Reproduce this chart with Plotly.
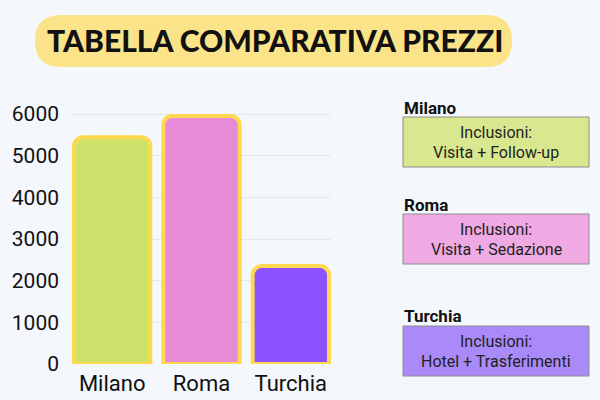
import plotly.graph_objects as go

# ---- data ----
cities = ["Milano", "Roma", "Turchia"]
prices = [5440, 5950, 2350]
bar_colors = ["#CDE26A", "#E78AD8", "#8C52FF"]
box_colors = ["#D9E88E", "#EFA9E3", "#A98AF8"]
inclusions = ["Visita + Follow-up", "Visita + Sedazione", "Hotel + Trasferimenti"]
y_ticks = [0, 1000, 2000, 3000, 4000, 5000, 6000]
title_text = "TABELLA COMPARATIVA PREZZI"

W, H = 600, 400
L, R, T, B = 72, 269, 100, 36
PW, PH = W - L - R, H - T - B


def px(x):
    return (x - L) / PW


def py(y):
    return (H - B - y) / PH


fig = go.Figure()
fig.add_trace(go.Bar(
    x=cities, y=prices, width=0.855,
    marker=dict(color=bar_colors, line=dict(color="#FDD94F", width=4),
                cornerradius=9),
    showlegend=False, hoverinfo="skip",
))

shapes = []
annotations = []

# title pill
x0, x1, y0, y1 = 35, 512, 15, 67
r = 26
path = (f"M {px(x0 + r)},{py(y0)} L {px(x1 - r)},{py(y0)} "
        f"Q {px(x1)},{py(y0)} {px(x1)},{py(y0 + r)} "
        f"Q {px(x1)},{py(y1)} {px(x1 - r)},{py(y1)} "
        f"L {px(x0 + r)},{py(y1)} "
        f"Q {px(x0)},{py(y1)} {px(x0)},{py(y1 - r)} "
        f"Q {px(x0)},{py(y0)} {px(x0 + r)},{py(y0)} Z")
shapes.append(dict(type="path", xref="paper", yref="paper", path=path,
                   fillcolor="#FBE38A", line=dict(width=0), layer="below"))
annotations.append(dict(text=title_text, x=px(275), y=py(40),
                        xref="paper", yref="paper", showarrow=False,
                        xanchor="center", yanchor="middle",
                        font=dict(family="Lato", size=30, weight=900, color="#111111")))

# right side boxes
label_y = [108, 205, 316]
box_top = [117, 214, 326]
bx0, bx1, bh = 403, 589, 50
for i, c in enumerate(cities):
    annotations.append(dict(text=f"<b>{c}</b>", x=px(bx0 - 1), y=py(label_y[i]),
                            xref="paper", yref="paper", showarrow=False,
                            xanchor="left", yanchor="middle",
                            font=dict(family="Roboto", size=17, color="#111111")))
    shapes.append(dict(type="rect", xref="paper", yref="paper",
                       x0=px(bx0), x1=px(bx1), y0=py(box_top[i]), y1=py(box_top[i] + bh),
                       fillcolor=box_colors[i], line=dict(color="#8C8C8C", width=1)))
    annotations.append(dict(text="Inclusioni:", x=px((bx0 + bx1) / 2), y=py(box_top[i] + 15),
                            xref="paper", yref="paper", showarrow=False,
                            xanchor="center", yanchor="middle",
                            font=dict(family="Roboto", size=16, color="#222222")))
    annotations.append(dict(text=inclusions[i], x=px((bx0 + bx1) / 2), y=py(box_top[i] + 35),
                            xref="paper", yref="paper", showarrow=False,
                            xanchor="center", yanchor="middle",
                            font=dict(family="Roboto", size=16, color="#222222")))

fig.update_layout(
    width=W, height=H,
    margin=dict(l=L, r=R, t=T, b=B),
    paper_bgcolor="#F4F7FC", plot_bgcolor="#F4F7FC",
    shapes=shapes, annotations=annotations,
    bargap=0.1,
    font=dict(family="Roboto", color="#111111"),
    xaxis=dict(range=[-0.45, 2.45], showgrid=False, showline=False, ticks="",
               tickfont=dict(size=22, color="#111111"), ticklabelstandoff=4,
               automargin=False, fixedrange=True),
    yaxis=dict(range=[0, 6336], tickvals=y_ticks, showgrid=True,
               gridcolor="#E4E7EE", gridwidth=1, zeroline=False, showline=False,
               tickfont=dict(size=21, color="#111111"), ticklabelstandoff=12,
               automargin=False, fixedrange=True),
)

fig.write_html("out.html")
